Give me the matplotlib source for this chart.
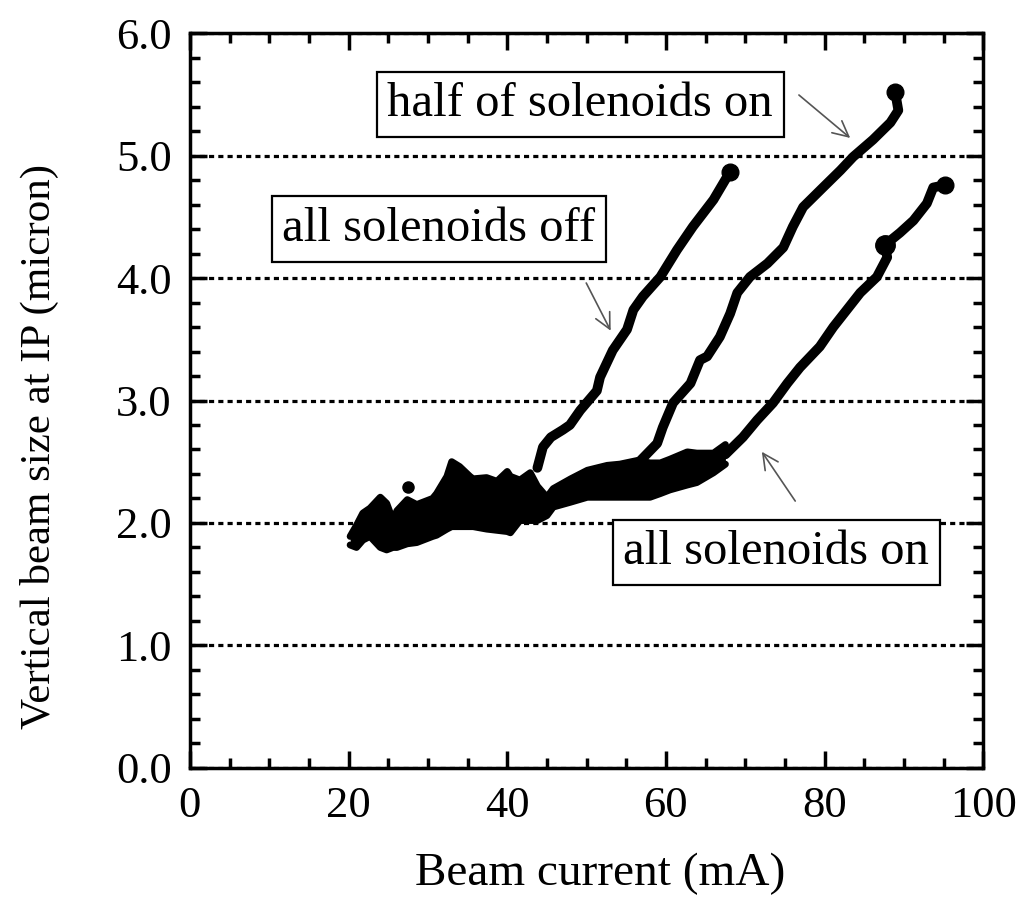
import matplotlib
matplotlib.use('Agg')
import matplotlib.pyplot as plt
from matplotlib.ticker import MultipleLocator, FormatStrFormatter

plt.rcParams['font.family'] = ['Liberation Serif', 'DejaVu Serif']

# low-current cloud where the three scans overlap (upper / lower edge)
cloud_x = [20.2, 21.0, 21.8, 22.7, 24.0, 24.8, 25.6, 26.1, 27.4, 28.6, 29.4, 30.6,
           31.1, 32.4, 33.0, 34.0, 35.3, 35.7, 37.4, 38.7, 40.0, 40.4, 41.6, 42.9,
           43.8, 45.0, 45.8, 48.0, 50.1, 52.6, 54.2, 56.4, 58.0, 59.3, 60.5, 62.7,
           63.9, 66.0, 67.5]
cloud_hi = [1.89, 1.98, 2.08, 2.12, 2.21, 2.16, 2.02, 2.10, 2.19, 2.15, 2.17, 2.20,
            2.24, 2.38, 2.50, 2.46, 2.38, 2.36, 2.37, 2.34, 2.42, 2.38, 2.35, 2.41,
            2.30, 2.21, 2.28, 2.36, 2.43, 2.47, 2.48, 2.51, 2.49, 2.49, 2.52, 2.58,
            2.57, 2.57, 2.64]
cloud_lo = [1.82, 1.80, 1.86, 1.89, 1.80, 1.78, 1.80, 1.80, 1.83, 1.84, 1.86, 1.89,
            1.90, 1.95, 1.97, 1.97, 1.97, 1.97, 1.95, 1.94, 1.93, 1.92, 2.02, 2.02,
            2.02, 2.06, 2.13, 2.17, 2.21, 2.21, 2.21, 2.21, 2.21, 2.24, 2.27, 2.31,
            2.33, 2.41, 2.48]
stray_x = [27.5]
stray_y = [2.29]

# all solenoids off
off_x = [43.8, 44.5, 45.5, 47.0, 47.9, 49.2, 51.3, 51.7, 53.3, 55.1, 55.9, 57.1,
         59.3, 61.4, 63.4, 66.0, 68.1]
off_y = [2.45, 2.62, 2.70, 2.76, 2.80, 2.92, 3.08, 3.19, 3.41, 3.58, 3.74, 3.85,
         4.01, 4.23, 4.42, 4.64, 4.87]

# half of solenoids on
half_x = [56.5, 58.9, 59.6, 60.9, 63.1, 64.3, 65.2, 66.8, 68.1, 69.0, 70.6, 72.8,
          74.8, 76.0, 77.3, 79.8, 82.0, 83.6, 86.1, 88.3, 89.3, 88.9]
half_y = [2.49, 2.65, 2.78, 2.98, 3.14, 3.33, 3.36, 3.52, 3.71, 3.88, 4.01, 4.12,
          4.25, 4.42, 4.58, 4.74, 4.88, 4.99, 5.13, 5.27, 5.37, 5.52]

# all solenoids on
on_x = [67.5, 69.7, 71.5, 73.5, 75.3, 76.9, 79.4, 81.1, 82.8, 84.5, 86.6, 87.9,
        87.6, 89.5, 91.2, 92.9, 93.7, 95.2]
on_y = [2.56, 2.70, 2.84, 2.98, 3.14, 3.27, 3.44, 3.60, 3.74, 3.88, 4.01, 4.17,
        4.27, 4.37, 4.47, 4.61, 4.74, 4.76]

fig = plt.figure(figsize=(10.21, 8.98), dpi=100)
ax = fig.add_axes([0.186, 0.145, 0.777, 0.818])

ax.fill_between(cloud_x, cloud_lo, cloud_hi, color='black', lw=0, zorder=3)
ax.plot(cloud_x, cloud_hi, color='black', lw=5, solid_joinstyle='round',
        solid_capstyle='round', zorder=3)
ax.plot(cloud_x, cloud_lo, color='black', lw=5, solid_joinstyle='round',
        solid_capstyle='round', zorder=3)
ax.plot(stray_x, stray_y, 'o', color='black', ms=8, zorder=3)

for xs, ys in [(off_x, off_y), (half_x, half_y), (on_x, on_y)]:
    ax.plot(xs, ys, color='black', lw=7, solid_joinstyle='round',
            solid_capstyle='round', zorder=3)
    ax.plot(xs[-1], ys[-1], 'o', color='black', ms=12, zorder=3)
ax.plot(on_x[12], on_y[12], 'o', color='black', ms=14, zorder=3)

ax.set_xlim(0, 100)
ax.set_ylim(0, 6)
ax.xaxis.set_major_locator(MultipleLocator(20))
ax.xaxis.set_minor_locator(MultipleLocator(5))
ax.yaxis.set_major_locator(MultipleLocator(1))
ax.yaxis.set_minor_locator(MultipleLocator(0.2))
ax.yaxis.set_major_formatter(FormatStrFormatter('%.1f'))

ax.tick_params(which='both', direction='in', top=True, right=True, width=2.5,
               labelsize=32, pad=13)
ax.tick_params(which='major', length=12)
ax.tick_params(which='minor', length=7)
for s in ax.spines.values():
    s.set_linewidth(2.5)

ax.grid(axis='y', which='major', color='black', linestyle=(0, (1.6, 1.3)), lw=2.3)

ax.set_xlabel('Beam current (mA)', fontsize=34)
ax.xaxis.set_label_coords(0.517, -0.115)
ax.set_ylabel('Vertical beam size at IP (micron)', fontsize=31)
ax.yaxis.set_label_coords(-0.165, 0.437)

box = dict(boxstyle='square,pad=0.22', fc='white', ec='black', lw=1.6)
ax.text(49.2, 5.42, 'half of solenoids on', fontsize=35, ha='center',
        va='center', bbox=box, zorder=4)
ax.text(31.4, 4.40, 'all solenoids off', fontsize=35, ha='center',
        va='center', bbox=box, zorder=4)
ax.text(73.9, 1.76, 'all solenoids on', fontsize=35, ha='center',
        va='center', bbox=box, zorder=4)

arrow = dict(arrowstyle='->', color='#555555', lw=1.2, mutation_scale=28)
ax.annotate('', xy=(83.5, 5.13), xytext=(76.5, 5.51), arrowprops=arrow, zorder=4)
ax.annotate('', xy=(53.2, 3.55), xytext=(49.8, 3.98), arrowprops=arrow, zorder=4)
ax.annotate('', xy=(71.9, 2.60), xytext=(76.5, 2.16), arrowprops=arrow, zorder=4)

fig.savefig('out.png', dpi=100)
